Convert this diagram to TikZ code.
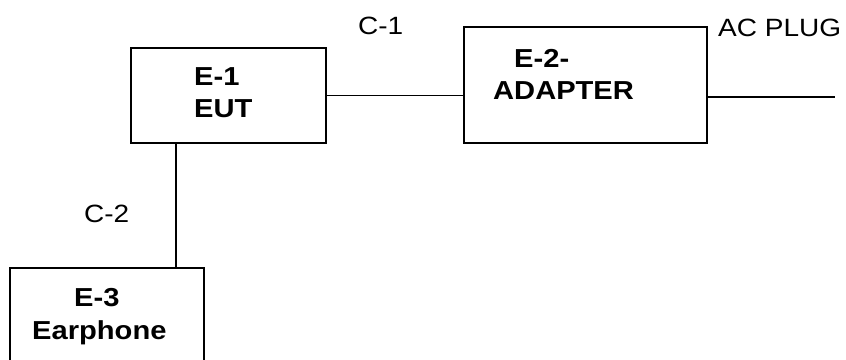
\documentclass[tikz,border=0pt]{standalone}
\usepackage{fontspec}
\setmainfont{Liberation Sans}[FakeStretch=1.12]
\begin{document}
\begin{tikzpicture}[x=1pt,y=-1pt,
  box/.style={draw,line width=2pt,minimum width=#1,inner sep=0pt},
  wire/.style={line width=1.5pt},
  lbl/.style={anchor=base west,inner sep=0pt,font=\fontsize{25}{30}\selectfont},
  blbl/.style={anchor=base west,inner sep=0pt,font=\fontsize{26}{30}\selectfont\bfseries}]
\useasboundingbox (0,0) rectangle (846,359);
\begin{scope}
\clip (0,0) rectangle (846,359);
\node[box=195pt,minimum height=95pt] (e1) at (228.5,95.5) {};
\node[box=243pt,minimum height=116pt] (e2) at (585.5,85) {};
\node[box=194pt,minimum height=104pt] (e3) at (107,320) {};
\end{scope}
\coordinate (v) at (176,0);
\coordinate (plug) at (835,97);
\draw[wire] (e1.east) -- (e1.east -| e2.west);
\draw[wire] (plug -| e2.east) -- (plug);
\draw[wire] (e1.south -| v) -- (e3.north -| v);
\node[blbl] (t1a) at (194,85) {E-1};
\node[blbl] (t1b) at (194,117) {EUT};
\node[blbl] (t2a) at (514,67) {E-2-};
\node[blbl] (t2b) at (493,99) {ADAPTER};
\node[blbl] (t3a) at (74,306) {E-3};
\node[blbl] (t3b) at (32,339) {Earphone};
\node[lbl] (c1) at (358,34) {C-1};
\node[lbl] (c2) at (84,222) {C-2};
\node[lbl] (ac) at (718,36) {AC PLUG};
\end{tikzpicture}
\end{document}
